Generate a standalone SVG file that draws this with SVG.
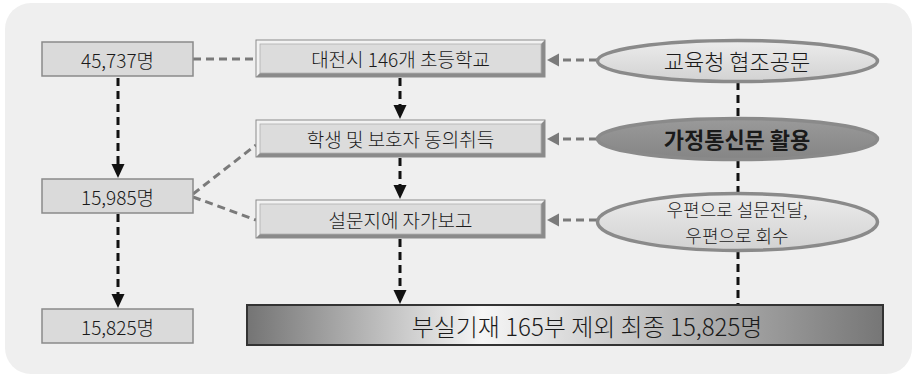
<svg xmlns="http://www.w3.org/2000/svg" width="915" height="378" viewBox="0 0 915 378">
<style>
text{font-family:"Noto Sans CJK KR","Noto Sans",sans-serif;fill:#1a1a1a;text-anchor:middle;dominant-baseline:central;font-weight:300}
.lbox{fill:#dadada;stroke:#8a8a8a;stroke-width:1.5}
.face{fill:#dcdcdc;stroke:#b0b0b0;stroke-width:0.8}
.light{fill:#f2f2f2}
.dark{fill:#8a8a8a}
.edge{fill:none;stroke:#8c8c8c;stroke-width:1}
.gray{fill:none;stroke:#7a7a7a;stroke-width:3;stroke-dasharray:8 5}
.blk{fill:none;stroke:#111;stroke-width:3;stroke-dasharray:8 5}
.ell{stroke:#8a8a8a;stroke-width:3.5}
.t19{font-size:19px}
.t22{font-size:22px}
</style>
<defs>
<marker id="ab" markerUnits="userSpaceOnUse" markerWidth="16" markerHeight="14" refX="4" refY="6.5" orient="auto">
<path d="M0,0 L14,6.5 L0,13 z" fill="#111"/>
</marker>
<marker id="ag" markerUnits="userSpaceOnUse" markerWidth="14" markerHeight="14" refX="3" refY="6.5" orient="auto">
<path d="M0,0 L12,6.5 L0,13 z" fill="#7a7a7a"/>
</marker>
<linearGradient id="barg" x1="0" y1="0" x2="1" y2="0">
<stop offset="0" stop-color="#747474"/>
<stop offset="0.37" stop-color="#f6f6f6"/>
<stop offset="1" stop-color="#767676"/>
</linearGradient>
<linearGradient id="elg" x1="0" y1="0" x2="0" y2="1">
<stop offset="0" stop-color="#ececec"/>
<stop offset="1" stop-color="#d2d2d2"/>
</linearGradient>
<linearGradient id="eld" x1="0" y1="0" x2="0" y2="1">
<stop offset="0" stop-color="#9a9a9a"/>
<stop offset="1" stop-color="#858585"/>
</linearGradient>
</defs>
<rect x="0" y="0" width="915" height="378" fill="#ffffff"/>
<rect x="5" y="3" width="907" height="371" rx="26" fill="#efefef"/>

<g id="connectors">
<line class="blk" x1="738" y1="82" x2="738" y2="305"/>
<line class="gray" x1="193" y1="59" x2="256" y2="59"/>
<line class="gray" x1="193" y1="194" x2="256" y2="145"/>
<line class="gray" x1="193" y1="197" x2="256" y2="220"/>
<line class="gray" x1="597" y1="60" x2="556" y2="60" marker-end="url(#ag)"/>
<line class="gray" x1="597" y1="139" x2="556" y2="139" marker-end="url(#ag)"/>
<line class="gray" x1="597" y1="220" x2="556" y2="220" marker-end="url(#ag)"/>
<line class="blk" x1="118" y1="78" x2="118" y2="168" marker-end="url(#ab)"/>
<line class="blk" x1="118" y1="214" x2="118" y2="298" marker-end="url(#ab)"/>
<line class="blk" x1="400" y1="78" x2="400" y2="109" marker-end="url(#ab)"/>
<line class="blk" x1="400" y1="158" x2="400" y2="189" marker-end="url(#ab)"/>
<line class="blk" x1="400" y1="239" x2="400" y2="294" marker-end="url(#ab)"/>
</g>

<g id="n45737">
<rect class="lbox" x="42" y="42" width="151" height="34"/>
<text class="t19" x="117.5" y="59">45,737명</text>
</g>
<g id="n15985">
<rect class="lbox" x="42" y="179" width="151" height="34"/>
<text class="t19" x="117.5" y="196">15,985명</text>
</g>
<g id="n15825">
<rect class="lbox" x="42" y="309" width="151" height="34"/>
<text class="t19" x="117.5" y="326">15,825명</text>
</g>

<g id="school">
<polygon class="light" points="256,40 545,40 541,44 260,44 260,73 256,77"/>
<polygon class="dark" points="545,40 545,77 256,77 260,73 541,73 541,44"/>
<rect class="face" x="260" y="44" width="281" height="29"/>
<rect class="edge" x="256" y="40" width="289" height="37"/>
<text class="t19" x="400.5" y="58.5">대전시 146개 초등학교</text>
</g>
<g id="consent">
<polygon class="light" points="256,120 545,120 541,124 260,124 260,153 256,157"/>
<polygon class="dark" points="545,120 545,157 256,157 260,153 541,153 541,124"/>
<rect class="face" x="260" y="124" width="281" height="29"/>
<rect class="edge" x="256" y="120" width="289" height="37"/>
<text class="t19" x="400.5" y="138.5">학생 및 보호자 동의취득</text>
</g>
<g id="selfreport">
<polygon class="light" points="256,200 545,200 541,204 260,204 260,234 256,238"/>
<polygon class="dark" points="545,200 545,238 256,238 260,234 541,234 541,204"/>
<rect class="face" x="260" y="204" width="281" height="30"/>
<rect class="edge" x="256" y="200" width="289" height="38"/>
<text class="t19" x="400.5" y="219">설문지에 자가보고</text>
</g>

<g id="final">
<rect x="247" y="305" width="636" height="40" fill="url(#barg)" stroke="#333" stroke-width="2"/>
<text x="587" y="325" font-size="24">부실기재 165부 제외 최종 15,825명</text>
</g>

<g id="office">
<ellipse class="ell" cx="737.5" cy="61" rx="140" ry="20.5" fill="url(#elg)"/>
<text class="t22" x="737" y="60">교육청 협조공문</text>
</g>
<g id="homeletter">
<ellipse class="ell" cx="737.5" cy="139" rx="140" ry="20.5" fill="url(#eld)" stroke="#777"/>
<text class="t22" x="737" y="138" style="font-weight:bold">가정통신문 활용</text>
</g>
<g id="mail">
<ellipse class="ell" cx="737.5" cy="222" rx="140" ry="28.5" fill="url(#elg)"/>
<text x="737" y="209" font-size="18">우편으로 설문전달,</text>
<text x="737" y="235" font-size="18">우편으로 회수</text>
</g>
</svg>
